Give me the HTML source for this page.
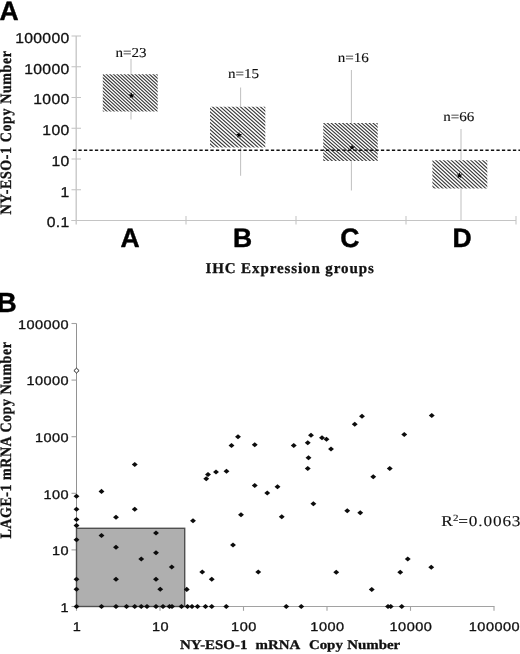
<!DOCTYPE html>
<html><head><meta charset="utf-8"><title>Figure</title>
<style>
html,body{margin:0;padding:0;background:#fff;}
svg{display:block;will-change:transform}
text{fill:#111;text-rendering:geometricPrecision;stroke:#111;stroke-width:0.3px;stroke-linejoin:round}
.tk{font-family:"Liberation Sans",sans-serif;font-size:14.3px;letter-spacing:0.3px}
.tkb{font-family:"Liberation Sans",sans-serif;font-size:12.6px;letter-spacing:0.4px}
.nl{font-family:"Liberation Serif",serif;font-size:13.6px;stroke-width:0.12px}
.cat{font-family:"Liberation Sans",sans-serif;font-size:26.5px;font-weight:bold;fill:#000;stroke:#000;stroke-width:0.45px}
.pan{font-family:"Liberation Sans",sans-serif;font-size:26.5px;font-weight:bold;fill:#000;stroke:#000;stroke-width:0.45px}
.xl{font-family:"Liberation Serif",serif;font-size:15px;font-weight:bold}
.yl{font-family:"Liberation Serif",serif;font-size:14px;font-weight:bold}
.xb{font-family:"Liberation Serif",serif;font-size:13.2px;font-weight:bold}
.r2{font-family:"Liberation Serif",serif;font-size:15px;stroke-width:0.12px}
.star{font-family:"Liberation Sans",sans-serif;font-size:7px;fill:#000}
</style></head><body>
<svg width="520" height="654" viewBox="0 0 520 654">
<g>
<rect width="520" height="654" fill="#fff"/>
<line x1="76.2" y1="36" x2="76.2" y2="224.5" stroke="#c4c4c4" stroke-width="1.3"/>
<line x1="71.5" y1="220.5" x2="516" y2="220.5" stroke="#c4c4c4" stroke-width="1.1"/>
<line x1="71.5" y1="220.5" x2="81" y2="220.5" stroke="#c4c4c4" stroke-width="1.05"/>
<text transform="translate(69.6,227.3) scale(1.1,1)" text-anchor="end" class="tk" >0.1</text>
<line x1="71.5" y1="189.75" x2="81" y2="189.75" stroke="#c4c4c4" stroke-width="1.05"/>
<text transform="translate(69.6,196.55) scale(1.1,1)" text-anchor="end" class="tk" >1</text>
<line x1="71.5" y1="159.0" x2="81" y2="159.0" stroke="#c4c4c4" stroke-width="1.05"/>
<text transform="translate(69.6,165.8) scale(1.1,1)" text-anchor="end" class="tk" >10</text>
<line x1="71.5" y1="128.25" x2="81" y2="128.25" stroke="#c4c4c4" stroke-width="1.05"/>
<text transform="translate(69.6,135.05) scale(1.1,1)" text-anchor="end" class="tk" >100</text>
<line x1="71.5" y1="97.5" x2="81" y2="97.5" stroke="#c4c4c4" stroke-width="1.05"/>
<text transform="translate(69.6,104.3) scale(1.1,1)" text-anchor="end" class="tk" >1000</text>
<line x1="71.5" y1="66.75" x2="81" y2="66.75" stroke="#c4c4c4" stroke-width="1.05"/>
<text transform="translate(69.6,73.55) scale(1.1,1)" text-anchor="end" class="tk" >10000</text>
<line x1="71.5" y1="36.0" x2="81" y2="36.0" stroke="#c4c4c4" stroke-width="1.05"/>
<text transform="translate(69.6,42.8) scale(1.1,1)" text-anchor="end" class="tk" >100000</text>
<line x1="186" y1="216" x2="186" y2="224.5" stroke="#c4c4c4" stroke-width="1.05"/>
<line x1="296" y1="216" x2="296" y2="224.5" stroke="#c4c4c4" stroke-width="1.05"/>
<line x1="406" y1="216" x2="406" y2="224.5" stroke="#c4c4c4" stroke-width="1.05"/>
<line x1="516" y1="216" x2="516" y2="224.5" stroke="#c4c4c4" stroke-width="1.05"/>
<line x1="131" y1="58.75" x2="131" y2="119.5" stroke="#c2c2c2" stroke-width="1.05"/>
<line x1="240.6" y1="87.5" x2="240.6" y2="175.7" stroke="#c2c2c2" stroke-width="1.05"/>
<line x1="351.4" y1="70" x2="351.4" y2="190.4" stroke="#c2c2c2" stroke-width="1.05"/>
<line x1="461" y1="129" x2="461" y2="220.3" stroke="#c2c2c2" stroke-width="1.05"/>
<clipPath id="c0"><rect x="102.8" y="74.3" width="54.89999999999999" height="37.2"/></clipPath>
<rect x="102.8" y="74.3" width="54.89999999999999" height="37.2" fill="#fff"/>
<path d="M101.80,20.33L158.70,72.80M101.80,23.65L158.70,76.12M101.80,26.97L158.70,79.44M101.80,30.29L158.70,82.76M101.80,33.61L158.70,86.08M101.80,36.93L158.70,89.40M101.80,40.25L158.70,92.72M101.80,43.57L158.70,96.04M101.80,46.89L158.70,99.36M101.80,50.21L158.70,102.68M101.80,53.53L158.70,106.00M101.80,56.85L158.70,109.32M101.80,60.17L158.70,112.64M101.80,63.49L158.70,115.96M101.80,66.81L158.70,119.28M101.80,70.13L158.70,122.60M101.80,73.45L158.70,125.92M101.80,76.77L158.70,129.24M101.80,80.09L158.70,132.56M101.80,83.41L158.70,135.88M101.80,86.73L158.70,139.20M101.80,90.05L158.70,142.52M101.80,93.37L158.70,145.84M101.80,96.69L158.70,149.16M101.80,100.01L158.70,152.48M101.80,103.33L158.70,155.80M101.80,106.65L158.70,159.12M101.80,109.97L158.70,162.44M101.80,113.29L158.70,165.76" stroke="#383838" stroke-width="1.12" fill="none" clip-path="url(#c0)"/>
<clipPath id="c1"><rect x="210" y="106.7" width="55.30000000000001" height="40.89999999999999"/></clipPath>
<rect x="210" y="106.7" width="55.30000000000001" height="40.89999999999999" fill="#fff"/>
<path d="M209.00,53.93L266.30,104.93M209.00,57.49L266.30,108.49M209.00,61.05L266.30,112.05M209.00,64.61L266.30,115.61M209.00,68.17L266.30,119.17M209.00,71.73L266.30,122.73M209.00,75.29L266.30,126.29M209.00,78.85L266.30,129.85M209.00,82.41L266.30,133.41M209.00,85.97L266.30,136.97M209.00,89.53L266.30,140.53M209.00,93.09L266.30,144.09M209.00,96.65L266.30,147.65M209.00,100.21L266.30,151.21M209.00,103.77L266.30,154.77M209.00,107.33L266.30,158.33M209.00,110.89L266.30,161.89M209.00,114.45L266.30,165.45M209.00,118.01L266.30,169.01M209.00,121.57L266.30,172.57M209.00,125.13L266.30,176.13M209.00,128.69L266.30,179.69M209.00,132.25L266.30,183.25M209.00,135.81L266.30,186.81M209.00,139.37L266.30,190.37M209.00,142.93L266.30,193.93M209.00,146.49L266.30,197.49M209.00,150.05L266.30,201.05" stroke="#383838" stroke-width="1.12" fill="none" clip-path="url(#c1)"/>
<clipPath id="c2"><rect x="323.2" y="123" width="54.5" height="37.900000000000006"/></clipPath>
<rect x="323.2" y="123" width="54.5" height="37.900000000000006" fill="#fff"/>
<path d="M322.20,71.62L378.70,121.43M322.20,74.97L378.70,124.78M322.20,78.32L378.70,128.13M322.20,81.67L378.70,131.48M322.20,85.02L378.70,134.83M322.20,88.37L378.70,138.18M322.20,91.72L378.70,141.53M322.20,95.07L378.70,144.88M322.20,98.42L378.70,148.23M322.20,101.77L378.70,151.58M322.20,105.12L378.70,154.93M322.20,108.47L378.70,158.28M322.20,111.82L378.70,161.63M322.20,115.17L378.70,164.98M322.20,118.52L378.70,168.33M322.20,121.87L378.70,171.68M322.20,125.22L378.70,175.03M322.20,128.57L378.70,178.38M322.20,131.92L378.70,181.73M322.20,135.27L378.70,185.08M322.20,138.62L378.70,188.43M322.20,141.97L378.70,191.78M322.20,145.32L378.70,195.13M322.20,148.67L378.70,198.48M322.20,152.02L378.70,201.83M322.20,155.37L378.70,205.18M322.20,158.72L378.70,208.53M322.20,162.07L378.70,211.88" stroke="#383838" stroke-width="1.12" fill="none" clip-path="url(#c2)"/>
<clipPath id="c3"><rect x="432.4" y="160.2" width="54.900000000000034" height="28.400000000000006"/></clipPath>
<rect x="432.4" y="160.2" width="54.900000000000034" height="28.400000000000006" fill="#fff"/>
<path d="M431.40,105.90L488.30,158.42M431.40,109.50L488.30,162.02M431.40,113.10L488.30,165.62M431.40,116.70L488.30,169.22M431.40,120.30L488.30,172.82M431.40,123.90L488.30,176.42M431.40,127.50L488.30,180.02M431.40,131.10L488.30,183.62M431.40,134.70L488.30,187.22M431.40,138.30L488.30,190.82M431.40,141.90L488.30,194.42M431.40,145.50L488.30,198.02M431.40,149.10L488.30,201.62M431.40,152.70L488.30,205.22M431.40,156.30L488.30,208.82M431.40,159.90L488.30,212.42M431.40,163.50L488.30,216.02M431.40,167.10L488.30,219.62M431.40,170.70L488.30,223.22M431.40,174.30L488.30,226.82M431.40,177.90L488.30,230.42M431.40,181.50L488.30,234.02M431.40,185.10L488.30,237.62M431.40,188.70L488.30,241.22" stroke="#383838" stroke-width="1.12" fill="none" clip-path="url(#c3)"/>
<line x1="72.9" y1="150.3" x2="520" y2="150.3" stroke="#111" stroke-width="1.4" stroke-dasharray="3.3 2.2"/>
<polygon points="131.50,92.20 132.26,94.45 134.64,94.48 132.74,95.90 133.44,98.17 131.50,96.80 129.56,98.17 130.26,95.90 128.36,94.48 130.74,94.45" fill="#000"/>
<text transform="translate(131,56.5) scale(1.11,1)" text-anchor="middle" class="nl" >n=23</text>
<polygon points="239.00,131.70 239.76,133.95 242.14,133.98 240.24,135.40 240.94,137.67 239.00,136.30 237.06,137.67 237.76,135.40 235.86,133.98 238.24,133.95" fill="#000"/>
<text transform="translate(243.5,77.7) scale(1.11,1)" text-anchor="middle" class="nl" >n=15</text>
<polygon points="352.00,144.20 352.76,146.45 355.14,146.48 353.24,147.90 353.94,150.17 352.00,148.80 350.06,150.17 350.76,147.90 348.86,146.48 351.24,146.45" fill="#000"/>
<text transform="translate(353.25,62.2) scale(1.11,1)" text-anchor="middle" class="nl" >n=16</text>
<polygon points="459.50,172.30 460.26,174.55 462.64,174.58 460.74,176.00 461.44,178.27 459.50,176.90 457.56,178.27 458.26,176.00 456.36,174.58 458.74,174.55" fill="#000"/>
<text transform="translate(458.7,121.2) scale(1.11,1)" text-anchor="middle" class="nl" >n=66</text>
<text x="130" y="247.4" text-anchor="middle" class="cat">A</text>
<text x="242.5" y="247.4" text-anchor="middle" class="cat">B</text>
<text x="349.9" y="247.4" text-anchor="middle" class="cat">C</text>
<text x="462" y="247.4" text-anchor="middle" class="cat">D</text>
<text x="205.4" y="273.3" class="xl" style="letter-spacing:0.9px">IHC Expression groups</text>
<text transform="translate(10.7,214.4) rotate(-90) scale(1,1.13)" class="yl" style="letter-spacing:0.6px">NY-ESO-1 Copy Number</text>
<text x="-0.5" y="19.8" class="pan">A</text>
<line x1="76.5" y1="323.5" x2="76.5" y2="606.5" stroke="#8c8c8c" stroke-width="0.95"/>
<line x1="76.5" y1="606.5" x2="494.5" y2="606.5" stroke="#a2a2a2" stroke-width="1.1"/>
<line x1="71.5" y1="606.5" x2="76.5" y2="606.5" stroke="#a2a2a2" stroke-width="1.1"/>
<text transform="translate(69.0,611.7) scale(1.15,1)" text-anchor="end" class="tkb" >1</text>
<line x1="76.5" y1="606.5" x2="76.5" y2="610.8" stroke="#a2a2a2" stroke-width="1.1"/>
<text transform="translate(76.9,631.2) scale(1.15,1)" text-anchor="middle" class="tkb" >1</text>
<line x1="71.5" y1="549.9" x2="76.5" y2="549.9" stroke="#a2a2a2" stroke-width="1.1"/>
<text transform="translate(69.0,555.1) scale(1.15,1)" text-anchor="end" class="tkb" >10</text>
<line x1="160.0" y1="606.5" x2="160.0" y2="610.8" stroke="#a2a2a2" stroke-width="1.1"/>
<text transform="translate(160.4,631.2) scale(1.15,1)" text-anchor="middle" class="tkb" >10</text>
<line x1="71.5" y1="493.3" x2="76.5" y2="493.3" stroke="#a2a2a2" stroke-width="1.1"/>
<text transform="translate(69.0,498.5) scale(1.15,1)" text-anchor="end" class="tkb" >100</text>
<line x1="243.5" y1="606.5" x2="243.5" y2="610.8" stroke="#a2a2a2" stroke-width="1.1"/>
<text transform="translate(243.9,631.2) scale(1.15,1)" text-anchor="middle" class="tkb" >100</text>
<line x1="71.5" y1="436.7" x2="76.5" y2="436.7" stroke="#a2a2a2" stroke-width="1.1"/>
<text transform="translate(69.0,441.9) scale(1.15,1)" text-anchor="end" class="tkb" >1000</text>
<line x1="327.0" y1="606.5" x2="327.0" y2="610.8" stroke="#a2a2a2" stroke-width="1.1"/>
<text transform="translate(327.4,631.2) scale(1.15,1)" text-anchor="middle" class="tkb" >1000</text>
<line x1="71.5" y1="380.1" x2="76.5" y2="380.1" stroke="#a2a2a2" stroke-width="1.1"/>
<text transform="translate(69.0,385.3) scale(1.15,1)" text-anchor="end" class="tkb" >10000</text>
<line x1="410.5" y1="606.5" x2="410.5" y2="610.8" stroke="#a2a2a2" stroke-width="1.1"/>
<text transform="translate(410.9,631.2) scale(1.15,1)" text-anchor="middle" class="tkb" >10000</text>
<line x1="71.5" y1="323.5" x2="76.5" y2="323.5" stroke="#a2a2a2" stroke-width="1.1"/>
<text transform="translate(69.0,328.7) scale(1.15,1)" text-anchor="end" class="tkb" >100000</text>
<line x1="494.0" y1="606.5" x2="494.0" y2="610.8" stroke="#a2a2a2" stroke-width="1.1"/>
<text transform="translate(494.4,631.2) scale(1.15,1)" text-anchor="middle" class="tkb" >100000</text>
<rect x="76.5" y="528.3" width="108.19999999999999" height="78.20000000000005" fill="#afafaf" stroke="#505050" stroke-width="1.4"/>
<path d="M73.55,496.3 L76.5,493.75 L79.45,496.3 L76.5,498.85 Z" fill="#0c0c0c"/>
<path d="M73.55,509.3 L76.5,506.75 L79.45,509.3 L76.5,511.85 Z" fill="#0c0c0c"/>
<path d="M73.55,519.5 L76.5,516.95 L79.45,519.5 L76.5,522.05 Z" fill="#0c0c0c"/>
<path d="M73.55,525.6 L76.5,523.05 L79.45,525.6 L76.5,528.15 Z" fill="#0c0c0c"/>
<path d="M98.55,491.4 L101.5,488.85 L104.45,491.4 L101.5,493.95 Z" fill="#0c0c0c"/>
<path d="M131.80,464.5 L134.75,461.95 L137.70,464.5 L134.75,467.05 Z" fill="#0c0c0c"/>
<path d="M131.80,509.25 L134.75,506.70 L137.70,509.25 L134.75,511.80 Z" fill="#0c0c0c"/>
<path d="M113.05,517.3 L116,514.75 L118.95,517.3 L116,519.85 Z" fill="#0c0c0c"/>
<path d="M190.05,520.8 L193,518.25 L195.95,520.8 L193,523.35 Z" fill="#0c0c0c"/>
<path d="M73.55,539.75 L76.5,537.20 L79.45,539.75 L76.5,542.30 Z" fill="#0c0c0c"/>
<path d="M73.55,579.25 L76.5,576.70 L79.45,579.25 L76.5,581.80 Z" fill="#0c0c0c"/>
<path d="M73.55,589.25 L76.5,586.70 L79.45,589.25 L76.5,591.80 Z" fill="#0c0c0c"/>
<path d="M73.55,606.5 L76.5,603.95 L79.45,606.5 L76.5,609.05 Z" fill="#0c0c0c"/>
<path d="M98.55,535.5 L101.5,532.95 L104.45,535.5 L101.5,538.05 Z" fill="#0c0c0c"/>
<path d="M113.05,547.25 L116,544.70 L118.95,547.25 L116,549.80 Z" fill="#0c0c0c"/>
<path d="M113.05,579.25 L116,576.70 L118.95,579.25 L116,581.80 Z" fill="#0c0c0c"/>
<path d="M138.30,559 L141.25,556.45 L144.20,559 L141.25,561.55 Z" fill="#0c0c0c"/>
<path d="M153.05,533 L156,530.45 L158.95,533 L156,535.55 Z" fill="#0c0c0c"/>
<path d="M153.05,552.75 L156,550.20 L158.95,552.75 L156,555.30 Z" fill="#0c0c0c"/>
<path d="M153.05,579.25 L156,576.70 L158.95,579.25 L156,581.80 Z" fill="#0c0c0c"/>
<path d="M157.30,589.25 L160.25,586.70 L163.20,589.25 L160.25,591.80 Z" fill="#0c0c0c"/>
<path d="M168.80,567 L171.75,564.45 L174.70,567 L171.75,569.55 Z" fill="#0c0c0c"/>
<path d="M183.80,589.4 L186.75,586.85 L189.70,589.4 L186.75,591.95 Z" fill="#0c0c0c"/>
<path d="M98.55,606.5 L101.5,603.95 L104.45,606.5 L101.5,609.05 Z" fill="#0c0c0c"/>
<path d="M113.05,606.5 L116,603.95 L118.95,606.5 L116,609.05 Z" fill="#0c0c0c"/>
<path d="M123.55,606.5 L126.5,603.95 L129.45,606.5 L126.5,609.05 Z" fill="#0c0c0c"/>
<path d="M131.80,606.5 L134.75,603.95 L137.70,606.5 L134.75,609.05 Z" fill="#0c0c0c"/>
<path d="M138.30,606.5 L141.25,603.95 L144.20,606.5 L141.25,609.05 Z" fill="#0c0c0c"/>
<path d="M144.05,606.5 L147,603.95 L149.95,606.5 L147,609.05 Z" fill="#0c0c0c"/>
<path d="M153.05,606.5 L156,603.95 L158.95,606.5 L156,609.05 Z" fill="#0c0c0c"/>
<path d="M160.05,606.5 L163,603.95 L165.95,606.5 L163,609.05 Z" fill="#0c0c0c"/>
<path d="M166.55,606.5 L169.5,603.95 L172.45,606.5 L169.5,609.05 Z" fill="#0c0c0c"/>
<path d="M169.05,606.5 L172,603.95 L174.95,606.5 L172,609.05 Z" fill="#0c0c0c"/>
<path d="M178.55,606.5 L181.5,603.95 L184.45,606.5 L181.5,609.05 Z" fill="#0c0c0c"/>
<path d="M184.55,606.5 L187.5,603.95 L190.45,606.5 L187.5,609.05 Z" fill="#0c0c0c"/>
<path d="M189.05,606.5 L192,603.95 L194.95,606.5 L192,609.05 Z" fill="#0c0c0c"/>
<path d="M194.55,606.5 L197.5,603.95 L200.45,606.5 L197.5,609.05 Z" fill="#0c0c0c"/>
<path d="M202.55,606.5 L205.5,603.95 L208.45,606.5 L205.5,609.05 Z" fill="#0c0c0c"/>
<path d="M208.80,606.5 L211.75,603.95 L214.70,606.5 L211.75,609.05 Z" fill="#0c0c0c"/>
<path d="M223.30,606.5 L226.25,603.95 L229.20,606.5 L226.25,609.05 Z" fill="#0c0c0c"/>
<path d="M283.30,606.5 L286.25,603.95 L289.20,606.5 L286.25,609.05 Z" fill="#0c0c0c"/>
<path d="M199.30,572 L202.25,569.45 L205.20,572 L202.25,574.55 Z" fill="#0c0c0c"/>
<path d="M208.80,579.25 L211.75,576.70 L214.70,579.25 L211.75,581.80 Z" fill="#0c0c0c"/>
<path d="M230.05,545 L233,542.45 L235.95,545 L233,547.55 Z" fill="#0c0c0c"/>
<path d="M255.30,572 L258.25,569.45 L261.20,572 L258.25,574.55 Z" fill="#0c0c0c"/>
<path d="M203.30,478.75 L206.25,476.20 L209.20,478.75 L206.25,481.30 Z" fill="#0c0c0c"/>
<path d="M205.05,474.5 L208,471.95 L210.95,474.5 L208,477.05 Z" fill="#0c0c0c"/>
<path d="M213.05,472 L216,469.45 L218.95,472 L216,474.55 Z" fill="#0c0c0c"/>
<path d="M223.55,471.25 L226.5,468.70 L229.45,471.25 L226.5,473.80 Z" fill="#0c0c0c"/>
<path d="M228.55,445.5 L231.5,442.95 L234.45,445.5 L231.5,448.05 Z" fill="#0c0c0c"/>
<path d="M235.05,436.75 L238,434.20 L240.95,436.75 L238,439.30 Z" fill="#0c0c0c"/>
<path d="M251.80,444.75 L254.75,442.20 L257.70,444.75 L254.75,447.30 Z" fill="#0c0c0c"/>
<path d="M251.80,485.5 L254.75,482.95 L257.70,485.5 L254.75,488.05 Z" fill="#0c0c0c"/>
<path d="M238.05,514.75 L241,512.20 L243.95,514.75 L241,517.30 Z" fill="#0c0c0c"/>
<path d="M264.30,493 L267.25,490.45 L270.20,493 L267.25,495.55 Z" fill="#0c0c0c"/>
<path d="M274.55,486.75 L277.5,484.20 L280.45,486.75 L277.5,489.30 Z" fill="#0c0c0c"/>
<path d="M278.80,516.75 L281.75,514.20 L284.70,516.75 L281.75,519.30 Z" fill="#0c0c0c"/>
<path d="M290.80,445.5 L293.75,442.95 L296.70,445.5 L293.75,448.05 Z" fill="#0c0c0c"/>
<path d="M304.80,442.75 L307.75,440.20 L310.70,442.75 L307.75,445.30 Z" fill="#0c0c0c"/>
<path d="M308.05,435.25 L311,432.70 L313.95,435.25 L311,437.80 Z" fill="#0c0c0c"/>
<path d="M305.55,457.75 L308.5,455.20 L311.45,457.75 L308.5,460.30 Z" fill="#0c0c0c"/>
<path d="M304.80,468.5 L307.75,465.95 L310.70,468.5 L307.75,471.05 Z" fill="#0c0c0c"/>
<path d="M310.45,503.75 L313.4,501.20 L316.35,503.75 L313.4,506.30 Z" fill="#0c0c0c"/>
<path d="M319.05,437.75 L322,435.20 L324.95,437.75 L322,440.30 Z" fill="#0c0c0c"/>
<path d="M323.55,439.25 L326.5,436.70 L329.45,439.25 L326.5,441.80 Z" fill="#0c0c0c"/>
<path d="M328.05,449 L331,446.45 L333.95,449 L331,451.55 Z" fill="#0c0c0c"/>
<path d="M351.80,424.25 L354.75,421.70 L357.70,424.25 L354.75,426.80 Z" fill="#0c0c0c"/>
<path d="M359.05,416.25 L362,413.70 L364.95,416.25 L362,418.80 Z" fill="#0c0c0c"/>
<path d="M370.30,476.75 L373.25,474.20 L376.20,476.75 L373.25,479.30 Z" fill="#0c0c0c"/>
<path d="M386.80,468.5 L389.75,465.95 L392.70,468.5 L389.75,471.05 Z" fill="#0c0c0c"/>
<path d="M401.30,434.5 L404.25,431.95 L407.20,434.5 L404.25,437.05 Z" fill="#0c0c0c"/>
<path d="M344.30,510.75 L347.25,508.20 L350.20,510.75 L347.25,513.30 Z" fill="#0c0c0c"/>
<path d="M357.30,512.75 L360.25,510.20 L363.20,512.75 L360.25,515.30 Z" fill="#0c0c0c"/>
<path d="M428.80,415.5 L431.75,412.95 L434.70,415.5 L431.75,418.05 Z" fill="#0c0c0c"/>
<path d="M298.30,606.5 L301.25,603.95 L304.20,606.5 L301.25,609.05 Z" fill="#0c0c0c"/>
<path d="M333.30,572.25 L336.25,569.70 L339.20,572.25 L336.25,574.80 Z" fill="#0c0c0c"/>
<path d="M368.80,589.5 L371.75,586.95 L374.70,589.5 L371.75,592.05 Z" fill="#0c0c0c"/>
<path d="M385.05,606.5 L388,603.95 L390.95,606.5 L388,609.05 Z" fill="#0c0c0c"/>
<path d="M387.80,606.5 L390.75,603.95 L393.70,606.5 L390.75,609.05 Z" fill="#0c0c0c"/>
<path d="M398.80,606.5 L401.75,603.95 L404.70,606.5 L401.75,609.05 Z" fill="#0c0c0c"/>
<path d="M397.30,572.25 L400.25,569.70 L403.20,572.25 L400.25,574.80 Z" fill="#0c0c0c"/>
<path d="M404.80,559 L407.75,556.45 L410.70,559 L407.75,561.55 Z" fill="#0c0c0c"/>
<path d="M428.30,567.25 L431.25,564.70 L434.20,567.25 L431.25,569.80 Z" fill="#0c0c0c"/>
<path d="M73.9,370.6 L76.5,368.20000000000005 L79.1,370.6 L76.5,373.0 Z" fill="#fff" stroke="#000" stroke-width="0.85"/>
<text transform="translate(441.3,525.7) scale(1.15,1)" class="r2" style="letter-spacing:0.75px">R<tspan dy="-4.3" dx="-0.5" font-size="9.5">2</tspan><tspan dy="4.3" dx="-1.1">=0.0063</tspan></text>
<text transform="translate(180.0,649.2) scale(1.13,1)" class="xb">NY-ESO-1</text>
<text transform="translate(255.5,649.2) scale(1.13,1)" class="xb">mRNA</text>
<text transform="translate(308.9,649.2) scale(1.13,1)" class="xb">Copy</text>
<text transform="translate(347.2,649.2) scale(1.13,1)" class="xb">Number</text>
<text transform="translate(11.1,538.5) rotate(-90) scale(1,1.13)" class="yl" style="letter-spacing:0.53px">LAGE-1 mRNA Copy Number</text>
<text x="-3.3" y="311.7" class="pan" style="font-size:27.6px">B</text>
</g>
</svg>
</body></html>
